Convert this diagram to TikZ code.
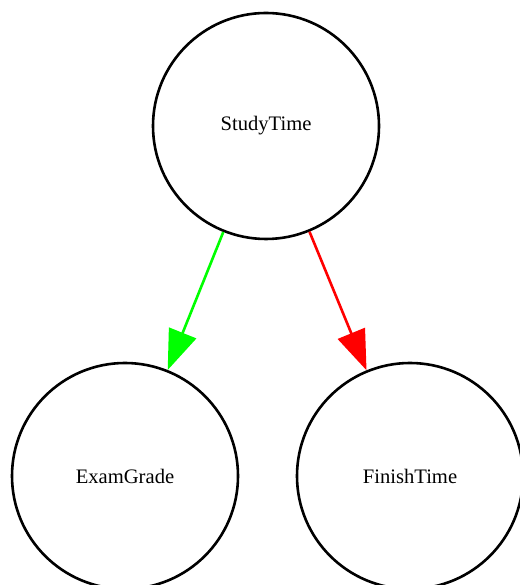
\documentclass[tikz,border=0pt]{standalone}
\usepackage{fontspec}
\setmainfont{Liberation Serif}
\usetikzlibrary{arrows.meta, positioning}

\begin{document}
\begin{tikzpicture}[on grid, >=Triangle]
    \tikzset{
        var/.style={circle, draw=black, line width=2.6pt, minimum size=226pt, inner sep=0pt, font=\fontsize{20.6}{24}\selectfont},
        link/.style={draw, line width=2.6pt, -{Triangle[length=40pt, width=29pt]}}
    }
    \useasboundingbox (0,0) rectangle (519pt,585pt);

    \node (Study) [var] at (266pt,459pt) {StudyTime};
    \node (Exam) [var, below left=350pt and 141pt of Study] {ExamGrade};
    \node (Finish) [var, below right=350pt and 144pt of Study] {FinishTime};

    \path [link, green] (Study) -- (Exam);
    \path [link, red] (Study) -- (Finish);
\end{tikzpicture}
\end{document}
